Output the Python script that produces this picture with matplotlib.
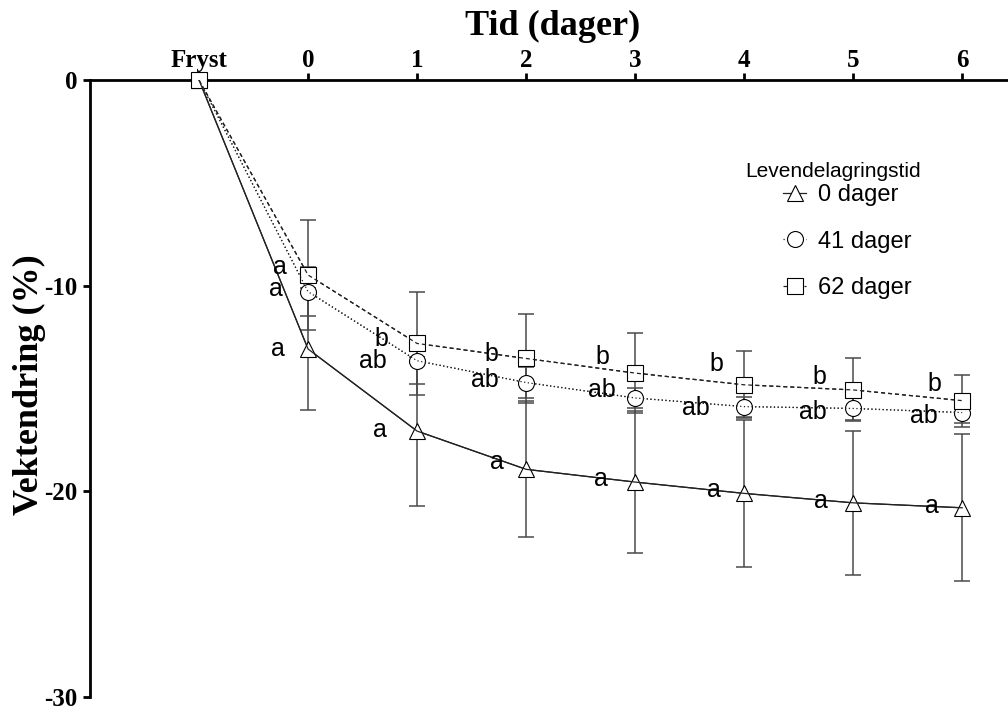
import matplotlib
matplotlib.use("Agg")
import matplotlib.pyplot as plt

# days of post-thaw storage, first point is the frozen reference
days = ["Fryst", "0", "1", "2", "3", "4", "5", "6"]
ytick_vals = [0, -10, -20, -30]
ytick_labels = ["0", "-10", "-20", "-30"]

# weight change (%) and error, per live-storage group
mean_0d = [0, -13.08, -17.07, -18.93, -19.55, -20.10, -20.56, -20.80]
err_0d = [0, 2.96, 3.62, 3.30, 3.47, 3.59, 3.49, 3.58]
mean_41d = [0, -10.29, -13.65, -14.71, -15.46, -15.88, -15.97, -16.17]
err_41d = [0, 1.20, 1.14, 0.77, 0.47, 0.49, 0.56, 0.52]
mean_62d = [0, -9.48, -12.81, -13.54, -14.25, -14.82, -15.07, -15.59]
err_62d = [0, 2.69, 2.51, 2.16, 1.93, 1.63, 1.53, 1.26]

# significance letters
letters_0d = ["", "a", "a", "a", "a", "a", "a", "a"]
letters_41d = ["", "a", "ab", "ab", "ab", "ab", "ab", "ab"]
letters_62d = ["", "a", "b", "b", "b", "b", "b", "b"]

group_names = ["0 dager", "41 dager", "62 dager"]
legend_title = "Levendelagringstid"

# letter placement (pixels): right edge left of the marker, baseline shift down
off_0d = [(-23, 7), (-30, 6), (-22, 0), (-27, 4), (-23, 4), (-25, 5), (-23, 5)]
off_41d = [(-25, 4), (-30, 7), (-27, 4), (-19, -1), (-34, 8), (-26, 11), (-24, 10)]
off_62d = [(-21, -1), (-29, 3), (-28, 3), (-26, -9), (-21, -14), (-27, -6), (-21, -10)]

SERIF = "Liberation Serif"
SANS = "Liberation Sans"

fig = plt.figure(figsize=(10.08, 7.08), dpi=100)
ax = fig.add_axes([90 / 1008, 1 - 697 / 708, 1 - 90 / 1008, 617 / 708])

x = list(range(len(days)))
series = [
    (mean_0d, err_0d, letters_0d, off_0d, "^", "-"),
    (mean_41d, err_41d, letters_41d, off_41d, "o", (0, (1, 2))),
    (mean_62d, err_62d, letters_62d, off_62d, "s", (0, (3.2, 2.4))),
]

for (m, e, lets, offs, mk, ls), name in zip(series, group_names):
    ax.errorbar(x, m, yerr=e, fmt="none", ecolor="#4a4a4a", elinewidth=1.1,
                capsize=6, capthick=1.1, zorder=2)
    ax.plot(x, m, color="#222222", ls=ls, lw=0.9, marker=mk, ms=11.5,
            mfc="white", mec="black", mew=0.8, clip_on=False, zorder=3, label=name)
    # connecting line drawn again on top so it shows through the symbols
    ax.plot(x, m, color="#222222", ls=ls, lw=0.9, zorder=4)
    for xi, yi, lab, (dx, dy) in zip(x[1:], m[1:], lets[1:], offs):
        ax.annotate(lab, (xi, yi), xytext=(dx, -dy), textcoords="offset pixels",
                    ha="right", va="baseline", fontsize=18, family=SANS, zorder=5)

ax.set_xlim(-1, 7.42)
ax.set_ylim(-30, 0)

ax.spines["right"].set_visible(False)
ax.spines["bottom"].set_visible(False)
for s in ("top", "left"):
    ax.spines[s].set_linewidth(2.0)

ax.xaxis.tick_top()
ax.set_xticks(x)
ax.set_xticklabels(days)
ax.set_yticks(ytick_vals)
ax.set_yticklabels(ytick_labels)
ax.tick_params(axis="both", direction="out", length=5, width=2.0)
ax.tick_params(axis="x", pad=0.5)
ax.tick_params(axis="y", pad=4)
for t in ax.get_xticklabels() + ax.get_yticklabels():
    t.set_fontfamily(SERIF)
    t.set_fontweight("bold")
    t.set_fontsize(18)

fig.text(553 / 1008, 1 - 35 / 708, "Tid (dager)", ha="center", va="baseline",
         fontsize=26, fontweight="bold", family=SERIF)
fig.text(29 / 1008, 1 - 385 / 708, "Vektendring (%)", rotation=90, ha="center",
         va="center", fontsize=26, fontweight="bold", family=SERIF)

# legend: title set as its own text, entries below it
fig.text(745 / 1008, 1 - 177 / 708, legend_title, ha="left", va="baseline",
         fontsize=15, family=SANS)
ax.legend(loc="upper left", bbox_to_anchor=(771 / 1008, 1 - 172 / 708),
          bbox_transform=fig.transFigure, frameon=False,
          prop={"family": SANS, "size": 17},
          handlelength=1.0, handletextpad=0.5, labelspacing=1.05, borderpad=0)

fig.savefig("out.png", dpi=100)
